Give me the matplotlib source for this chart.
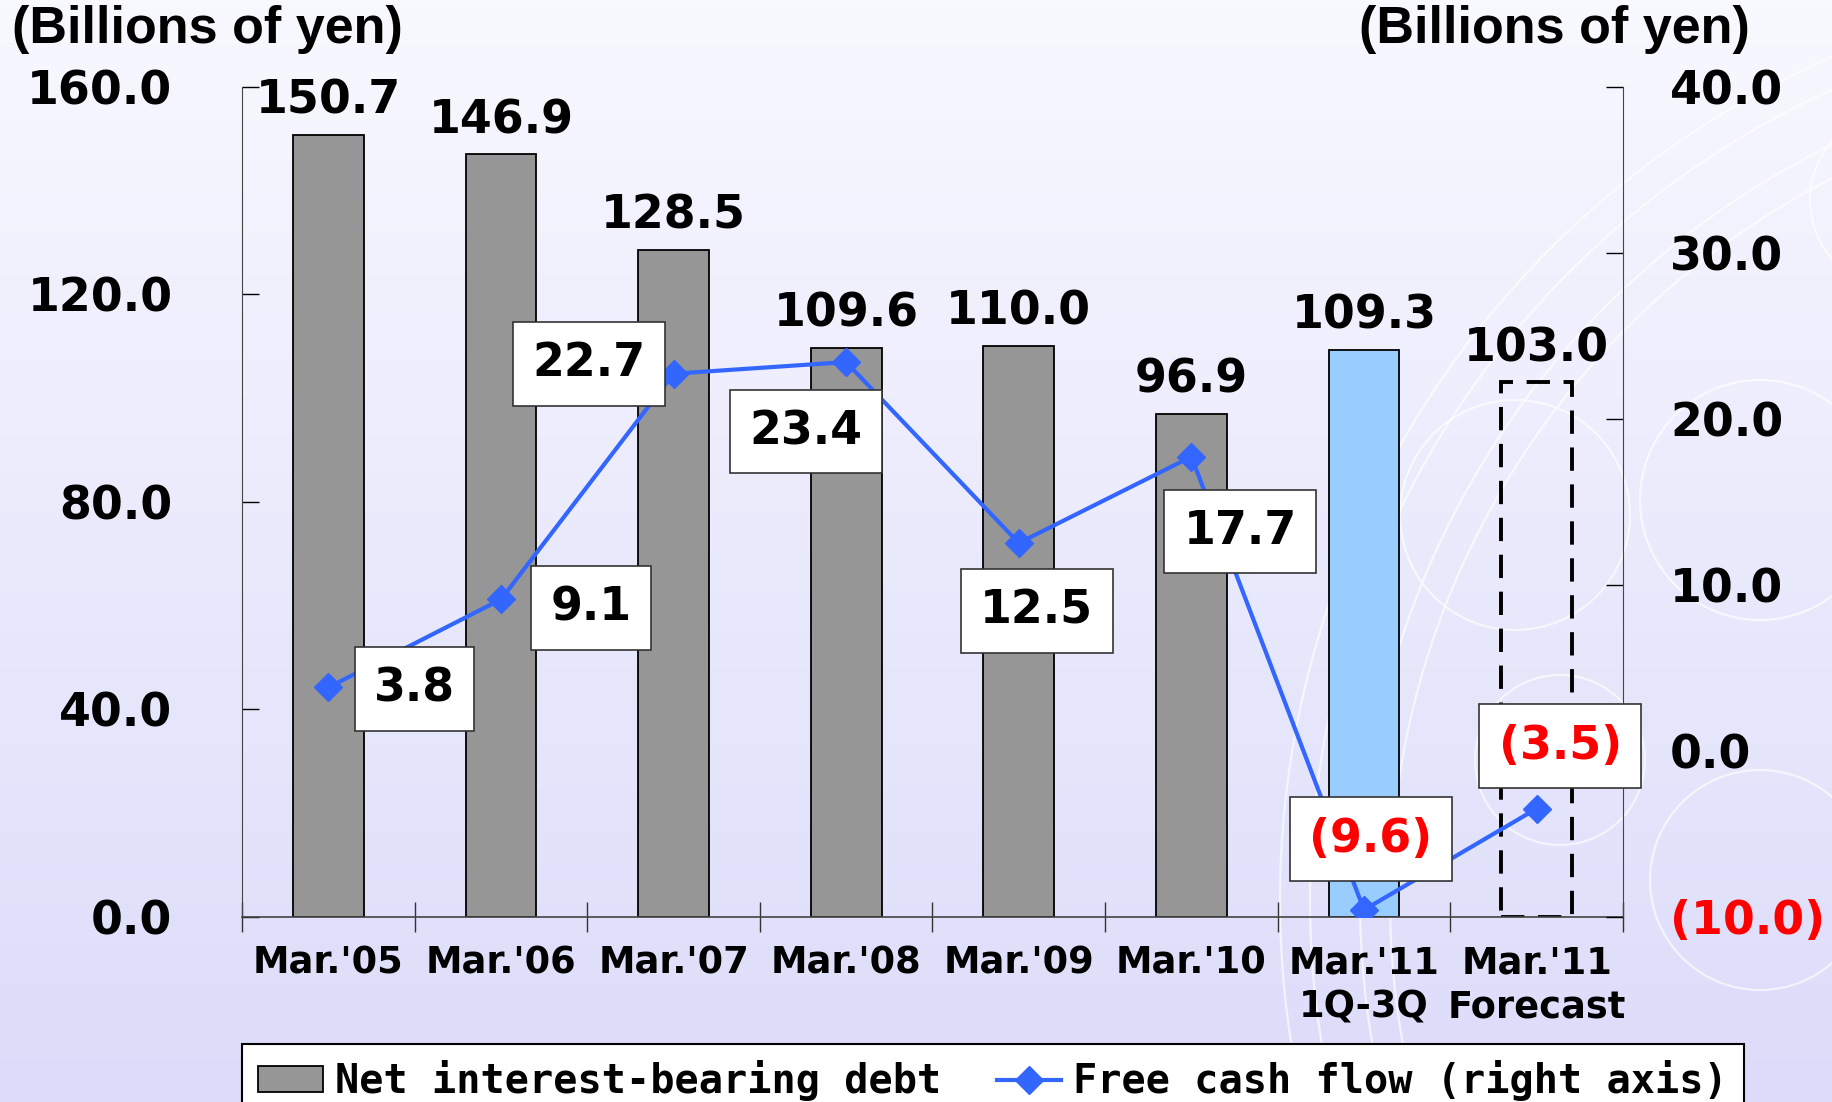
import numpy as np
import matplotlib.pyplot as plt
from matplotlib.patches import Circle

# data
categories = ["Mar.'05", "Mar.'06", "Mar.'07", "Mar.'08", "Mar.'09",
              "Mar.'10", "Mar.'11\n1Q-3Q", "Mar.'11\nForecast"]
net_debt = [150.7, 146.9, 128.5, 109.6, 110.0, 96.9, 109.3, 103.0]
free_cash_flow = [3.8, 9.1, 22.7, 23.4, 12.5, 17.7, -9.6, -3.5]
left_ticks = [0, 40, 80, 120, 160]
right_ticks = [-10, 0, 10, 20, 30, 40]
unit_label = '(Billions of yen)'
legend_labels = ['Net interest-bearing debt', 'Free cash flow (right axis)']

# label box offsets (points) for the FCF values
box_offsets = [(62, -1), (65, -6), (-61, 7), (-29, -50),
               (13, -49), (35, -54), (5, 51), (17, 45)]


def fmt(v):
    # negatives in parentheses
    return f'({abs(v):.1f})' if v < 0 else f'{v:.1f}'


W, H = 1833, 1102
fig = plt.figure(figsize=(W / 100, H / 100), dpi=100)

# background gradient + decorative circles
bg = fig.add_axes([0, 0, 1, 1], zorder=-10)
grad = np.linspace(0, 1, 256).reshape(-1, 1)
top = np.array([248, 248, 255]) / 255
bot = np.array([220, 220, 250]) / 255
img = top + (bot - top) * grad[..., None]
img = np.repeat(img, 2, axis=1)
bg.imshow(img, extent=(0, W, H, 0), aspect='auto')
for (cx, cy, r) in [(2200, 900, 920), (2200, 900, 890), (2200, 900, 840), (2200, 900, 810),
                    (1515, 515, 115), (1560, 760, 85), (1760, 500, 120), (1760, 880, 110),
                    (1900, 200, 90)]:
    bg.add_patch(Circle((cx, cy), r, fill=False, ec='white', lw=1.6, alpha=0.65))
bg.set_xlim(0, W)
bg.set_ylim(H, 0)
bg.axis('off')

ax = fig.add_axes([0.132, 0.1683, 0.7534, 0.7532])
ax.patch.set_alpha(0)
x = np.arange(len(categories))

colors = ['#969696'] * 6 + ['#99ccff', 'none']
bars = ax.bar(x, net_debt, width=0.41, color=colors, edgecolor='black', linewidth=1.3, zorder=2)
bars[-1].set_linestyle((0, (6, 3.5)))
bars[-1].set_linewidth(2.8)

for xi, v in zip(x, net_debt):
    ax.annotate(fmt(v), (xi, v), xytext=(0, 8), textcoords='offset points',
                ha='center', va='bottom', fontsize=33, fontweight='bold', zorder=3)

ax.set_xlim(-0.5, len(categories) - 0.5)
ax.set_ylim(0, 160)
ax.set_yticks(left_ticks)
ax.set_yticklabels([f'{t:.1f}' for t in left_ticks], fontsize=33, fontweight='bold')
ax.tick_params(axis='y', direction='in', length=12, width=1, pad=50, colors='black')
ax.set_xticks(x)
ax.set_xticklabels(categories, fontsize=26.5, fontweight='bold', linespacing=1.25)
ax.tick_params(axis='x', length=0, pad=20)
ax.set_xticks(np.arange(-0.5, len(categories)), minor=True)
ax.tick_params(axis='x', which='minor', direction='inout', length=22, width=1, color='#333333')
ax.spines['top'].set_visible(False)
ax.spines['right'].set_visible(False)
ax.spines['left'].set_color('#444444')
ax.spines['bottom'].set_color('#444444')
ax.spines['bottom'].set_linewidth(1.2)

# free cash flow on the right axis
ax2 = ax.twinx()
line, = ax2.plot(x, free_cash_flow, color='#3366ff', linewidth=3, marker='D',
                 markersize=14, zorder=4)
ax2.set_ylim(-10, 40)
ax2.set_yticks(right_ticks)
ax2.set_yticklabels([fmt(t) for t in right_ticks], fontsize=33, fontweight='bold')
ax2.tick_params(axis='y', direction='in', length=12, width=1, pad=34, colors='black')
ax2.get_yticklabels()[0].set_color('red')
for s in ['top', 'left', 'bottom']:
    ax2.spines[s].set_visible(False)
ax2.spines['right'].set_color('#444444')

for xi, v, off in zip(x, free_cash_flow, box_offsets):
    ax2.annotate(fmt(v), (xi, v), xytext=off, textcoords='offset points',
                 ha='center', va='center', fontsize=33, fontweight='bold',
                 color='red' if v < 0 else 'black', zorder=6,
                 bbox=dict(boxstyle='square,pad=0.42', fc='white', ec='#333333', lw=1.2))

# unit labels
fig.text(12 / W, 0.973, unit_label, ha='left', va='center', fontsize=37.5,
         fontweight='bold', family='Liberation Sans')
fig.text(1750 / W, 0.973, unit_label, ha='right', va='center', fontsize=37.5,
         fontweight='bold', family='Liberation Sans')

leg = fig.legend([bars[0], line], legend_labels, loc='upper left',
                 bbox_to_anchor=(242 / W, -0.04, 1502 / W, 0.0926), mode='expand',
                 ncol=2, frameon=True, fancybox=False, borderaxespad=0,
                 handlelength=1.6, handleheight=0.6, handletextpad=0.3, columnspacing=0.3,
                 prop={'family': 'DejaVu Sans Mono', 'weight': 'bold', 'size': 29})
leg.get_frame().set_edgecolor('black')
leg.get_frame().set_linewidth(1.5)
leg.get_frame().set_facecolor('white')
leg.get_frame().set_alpha(1)

fig.savefig('out.png', dpi=100)
